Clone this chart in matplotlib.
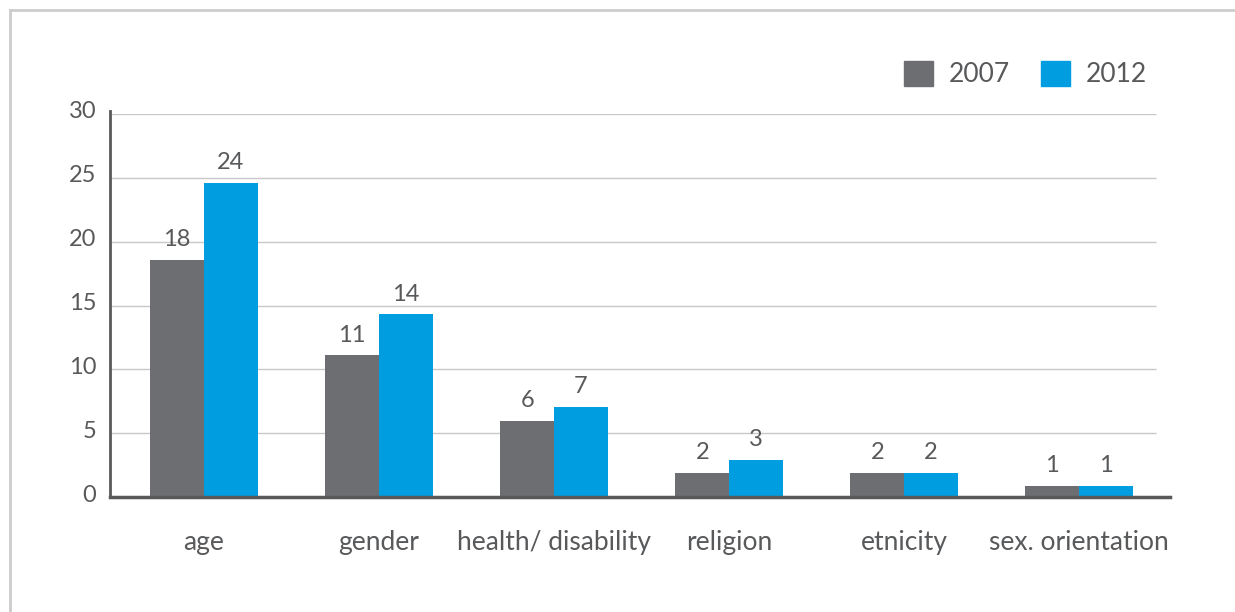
import numpy as np
import matplotlib.pyplot as plt
from matplotlib.lines import Line2D
from matplotlib.patches import Patch
from matplotlib.transforms import ScaledTranslation

categories = ['age', 'gender', 'health/ disability', 'religion', 'etnicity', 'sex. orientation']
values_2007 = [18.6, 11.1, 5.95, 1.9, 1.9, 0.86]
values_2012 = [24.6, 14.3, 7.05, 2.9, 1.9, 0.86]
labels_2007 = ['18', '11', '6', '2', '2', '1']
labels_2012 = ['24', '14', '7', '3', '2', '1']
yticks = [0, 5, 10, 15, 20, 25, 30]

grey = '#6d6e71'
blue = '#009ee0'
textc = '#58595b'

plt.rcParams['font.family'] = ['Lato', 'DejaVu Sans']

fig = plt.figure(figsize=(12.35, 6.12), dpi=100)
ax = fig.add_axes([110 / 1235, 1 - 497 / 612, 1060 / 1235, 383 / 612])

x = np.arange(len(categories))
w = 0.306
b1 = ax.bar(x - w / 2, values_2007, width=w, color=grey, label='2007', zorder=3)
b2 = ax.bar(x + w / 2, values_2012, width=w, color=blue, label='2012', zorder=3)

for bars, labs in [(b1, labels_2007), (b2, labels_2012)]:
    for r, lab in zip(bars, labs):
        ax.text(r.get_x() + r.get_width() / 2, r.get_height() + 0.75, lab,
                ha='center', va='bottom', fontsize=17, color=textc)

ax.set_xlim(-0.537, 5.52)
ax.set_ylim(0, 30)
ax.hlines(yticks[1:], -0.537, 5.44, color='#c8c8c8', linewidth=1, zorder=1)

for s in ['top', 'right']:
    ax.spines[s].set_visible(False)
ax.spines['left'].set_color(textc)
ax.spines['left'].set_linewidth(2)
ax.spines['left'].set_bounds(0, 30.2)
ax.spines['bottom'].set_color(textc)
ax.spines['bottom'].set_linewidth(2.5)
ax.spines['bottom'].set_zorder(4)

ax.set_yticks(yticks)
ax.set_yticklabels([str(t) for t in yticks], fontsize=17, color=textc)
ax.set_xticks(x)
ax.set_xticklabels(categories, fontsize=19, color=textc)
ax.tick_params(axis='y', length=0, pad=10)
ax.tick_params(axis='x', length=0, pad=24)
up = ScaledTranslation(0, 4 / 100, fig.dpi_scale_trans)
for lab in ax.get_yticklabels():
    lab.set_transform(lab.get_transform() + up)

handles = [Patch(color=grey), Patch(color=blue)]
fig.legend(handles, ['2007', '2012'], loc='center right', bbox_to_anchor=(1158 / 1235, 1 - 74 / 612),
           ncol=2, frameon=False, fontsize=19, handlelength=1.1, handleheight=1.1,
           handletextpad=0.6, columnspacing=1.2, labelcolor=textc, borderaxespad=0)

# light frame (left and top)
fig.add_artist(Line2D([9.5 / 1235, 9.5 / 1235], [0, 1 - 9.5 / 612], color='#cccccc', linewidth=2))
fig.add_artist(Line2D([9.5 / 1235, 1], [1 - 9.5 / 612, 1 - 9.5 / 612], color='#cccccc', linewidth=2))

fig.savefig('out.png', dpi=100)
